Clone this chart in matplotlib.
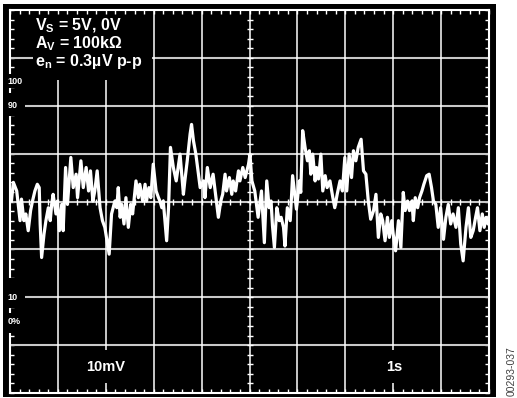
import numpy as np
import matplotlib
matplotlib.use('Agg')
import matplotlib.pyplot as plt
from matplotlib.ticker import MultipleLocator, NullFormatter
from matplotlib.patches import Rectangle

plt.rcParams['font.family'] = ['Liberation Sans', 'DejaVu Sans']
plt.rcParams['mathtext.fontset'] = 'custom'
plt.rcParams['mathtext.rm'] = 'Liberation Sans:bold'
plt.rcParams['mathtext.it'] = 'Liberation Sans:bold'
plt.rcParams['mathtext.bf'] = 'Liberation Sans:bold'

# noise trace, time in s (1s/div), amplitude in mV (10mV/div)
t = [0.03, 0.07, 0.14, 0.21, 0.24, 0.29, 0.33, 0.38, 0.43, 0.47, 0.52, 0.57, 0.61, 0.63,
     0.66, 0.71, 0.75, 0.80, 0.84, 0.87, 0.90, 0.96, 0.99, 1.03, 1.08, 1.11, 1.16, 1.20,
     1.27, 1.32, 1.38, 1.41, 1.48, 1.53, 1.59, 1.64, 1.68, 1.73, 1.77, 1.82, 1.88, 1.93,
     1.98, 2.07, 2.12, 2.19, 2.23, 2.26, 2.30, 2.33, 2.38, 2.42, 2.47, 2.52, 2.56, 2.63,
     2.68, 2.71, 2.77, 2.82, 2.85, 2.90, 2.94, 2.99, 3.05, 3.10, 3.13, 3.17, 3.20, 3.27,
     3.31, 3.35, 3.41, 3.47, 3.55, 3.62, 3.65, 3.70, 3.76, 3.79, 3.83, 3.88, 3.97, 4.04,
     4.07, 4.12, 4.18, 4.24, 4.30, 4.35, 4.40, 4.44, 4.49, 4.52, 4.58, 4.63, 4.66, 4.71,
     4.77, 4.80, 4.86, 4.91, 4.98,
     5.01, 5.05, 5.11, 5.18, 5.25, 5.31, 5.36, 5.41, 5.45, 5.48, 5.52, 5.57, 5.62, 5.66,
     5.71, 5.74, 5.79, 5.85, 5.90, 5.98, 6.04, 6.07, 6.11, 6.16, 6.21, 6.25, 6.28, 6.32,
     6.37, 6.40, 6.44, 6.49, 6.53, 6.58, 6.62, 6.68, 6.74, 6.78, 6.83, 6.89, 6.94, 6.99,
     7.03, 7.08, 7.13, 7.17, 7.22, 7.27, 7.33, 7.38, 7.43, 7.48, 7.53, 7.59, 7.64, 7.69,
     7.74, 7.78, 7.83, 7.88, 7.92, 7.97, 8.00, 8.05, 8.11, 8.16, 8.21, 8.25, 8.30, 8.34,
     8.39, 8.42, 8.46, 8.51, 8.55, 8.60, 8.64, 8.70, 8.75, 8.80, 8.84, 8.89, 8.94, 8.99,
     9.05, 9.10, 9.15, 9.20, 9.25, 9.31, 9.36, 9.41, 9.46, 9.52, 9.57, 9.62, 9.67, 9.72,
     9.76, 9.81, 9.86, 9.90, 9.94, 9.98, 10.0]
v = [0.1, 4.0, 2.2, -4.0, 0.5, -4.0, -2.6, -6.1, -1.9, 0.1, 2.2, 3.6, 2.9, -4.7,
     -11.7, -6.8, -4.0, -1.3, -4.0, -0.6, 1.5, -2.6, 0.1, -6.1, -0.6, -6.1, 7.1, -0.6,
     9.2, 2.9, 5.7, 0.8, 8.5, 2.9, 7.1, 2.2, 6.4, 0.1, 2.2, 6.4, -1.3, -4.0,
     -5.4, -11.0, -2.6, 0.1, -1.3, 2.9, -3.3, -0.6, -4.7, 0.8, -5.4, -0.6, -2.6, 4.3,
     0.8, 3.6, 0.1, 3.6, 0.1, 2.9, 0.8, 7.8, 2.2, 0.8, 0.1, -1.3, 0.1, -8.2,
     -1.3, 11.3, 7.1, 4.3, 9.9, 1.5, 4.3, 8.5, 14.1, 16.1, 12.7, 9.9, 2.9, 4.3,
     0.8, 7.1, 2.9, 5.7, 0.8, -3.3, 0.1, 1.5, 5.7, 2.2, 5.0, 1.5, 4.3, 2.2,
     6.4, 4.3, 7.1, 5.0, 7.8,
     9.9, 4.3, 2.2, -3.3, 2.2, -8.6, 4.3, -1.3, 0.1, -5.1, -9.6, -1.3, -4.0, -3.3,
     -5.4, -9.3, -1.3, -4.0, 5.4, -1.6, 4.3, 1.9, 14.8, 11.3, 8.5, 10.6, 5.7, 9.9,
     4.3, 7.1, 4.7, 9.9, 2.2, 5.4, 2.9, 4.3, 0.8, -1.3, 1.5, 4.3, 2.2, 9.2,
     2.2, 9.9, 5.0, 10.6, 8.5, 11.3, 13.0, 6.4, 5.7, 0.1, -3.7, -1.9, 1.5, -7.5,
     -2.6, -4.0, -8.2, -3.3, -7.5, -4.0, -6.8, -10.3, -4.0, -9.6, 1.9, -1.9, 0.1, -1.9,
     0.1, -4.0, 0.8, -1.3, 0.8, 2.2, 3.6, 5.4, 5.7, 2.9, 0.1, -0.6, -5.4, -1.3,
     -7.9, -3.3, -0.6, -4.7, -2.6, -5.4, -1.3, -8.9, -12.4, -5.4, -1.3, -7.5, -6.1, -3.3,
     -1.3, -6.1, -2.6, -5.4, -3.3, -4.7, -3.3]

setup_lines = ['V$_{\\mathrm{S}}$ = 5V, 0V', 'A$_{\\mathrm{V}}$ = 100kΩ', 'e$_{\\mathrm{n}}$ = 0.3µV p-p']
level_labels = ['100', '90', '10', '0%']
level_values = [25, 20, -20, -25]

W, H = 517, 398
fig = plt.figure(figsize=(W / 100, H / 100), dpi=100)
fig.patches.append(Rectangle((3 / W, 1 / H), 493 / W, 393 / H, transform=fig.transFigure,
                             facecolor='black', edgecolor='none', zorder=-10))
ax = fig.add_axes([10 / W, 5 / H, 479 / W, 383 / H])
ax.set_facecolor('black')
ax.set_xlim(0, 10)
ax.set_ylim(-40, 40)

ax.xaxis.set_major_locator(MultipleLocator(1))
ax.xaxis.set_minor_locator(MultipleLocator(0.2))
ax.yaxis.set_major_locator(MultipleLocator(10))
ax.yaxis.set_minor_locator(MultipleLocator(2))
ax.xaxis.set_major_formatter(NullFormatter())
ax.yaxis.set_major_formatter(NullFormatter())
ax.tick_params(which='both', direction='in', length=3, width=1, color='white',
               top=True, right=True, labelbottom=False, labelleft=False)
for s in ax.spines.values():
    s.set_color('white')
    s.set_linewidth(1.5)

# graticule
gcol_h = '#c8c8c8'
for y in [-30, -10, 0, 10]:
    ax.hlines(y, 0, 10, color=gcol_h, lw=1.5, zorder=2)
ax.hlines([20, -20], 0.31, 10, color=gcol_h, lw=1.5, zorder=2)
ax.hlines(30, 0, 0.48, color=gcol_h, lw=1.5, zorder=2)
ax.hlines(30, 2.96, 10, color=gcol_h, lw=1.5, zorder=2)
for x in [3, 4, 5, 6, 7, 9]:
    ax.vlines(x, -40, 40, color='white', lw=1.1, zorder=2)
ax.vlines(1, -40, 25.4, color='white', lw=1.1, zorder=2)
ax.vlines(2, -40, -37.9, color='white', lw=1.1, zorder=2)
ax.vlines(2, -31, 25.4, color='white', lw=1.1, zorder=2)
ax.vlines(8, -40, -37.9, color='white', lw=1.1, zorder=2)
ax.vlines(8, -31, 40, color='white', lw=1.1, zorder=2)

# centre-axis ticks
tx = np.arange(0.2, 10, 0.2)
ax.plot(tx, np.zeros_like(tx), ls='none', marker='|', ms=5, mew=1, color='white', zorder=2)
ty = np.arange(-38, 40, 2)
ax.plot(np.full_like(ty, 5.0, dtype=float), ty, ls='none', marker='_', ms=5, mew=1,
        color='white', zorder=2)

# gaps in the left border around the level labels
for y0, y1 in [(23.7, 26.7), (17.8, 22.7), (-22.2, -16.0), (-27.5, -23.3)]:
    ax.add_patch(Rectangle((-0.14, y0), 0.39, y1 - y0, facecolor='black', edgecolor='none',
                           clip_on=False, zorder=5))
for lab, y in zip(level_labels, level_values):
    ax.text(-0.05, y, lab, color='white', fontsize=6.5, fontweight='bold', ha='left',
            va='center', zorder=6, clip_on=False)

ax.plot(t, v, color='white', lw=2.3, zorder=4)

for i, s in enumerate(setup_lines):
    ax.text(0.52, 36.7 - 3.75 * i, s, color='white', fontsize=11.5, fontweight='bold',
            ha='left', va='center', zorder=6)

ax.text(2.0, -34.6, '10mV', color='white', fontsize=10.5, fontweight='bold',
        ha='center', va='center', zorder=6)
ax.text(8.02, -34.6, '1s', color='white', fontsize=10.5, fontweight='bold',
        ha='center', va='center', zorder=6)

fig.text(512 / W, 1 - 371 / H, '00293-037', rotation=90, ha='center', va='center',
         fontsize=7.5, color='#404040')

fig.savefig('out.png', dpi=100)
